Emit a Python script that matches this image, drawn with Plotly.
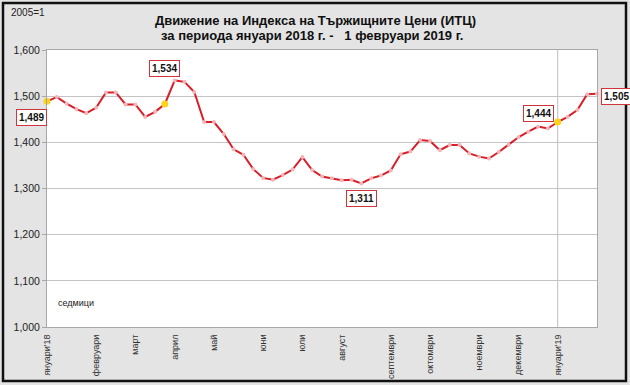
import plotly.graph_objects as go

# Weekly index values (2005=1), January 2018 - 1 February 2019
week_idx = list(range(57))
itc_values = [1489, 1498, 1484, 1472, 1463, 1475, 1508, 1508, 1482, 1482,
              1455, 1466, 1483, 1534, 1531, 1509, 1444, 1444, 1418, 1385,
              1373, 1342, 1323, 1319, 1329, 1341, 1368, 1340, 1326, 1322,
              1318, 1319, 1311, 1322, 1328, 1339, 1374, 1380, 1405, 1403,
              1383, 1394, 1394, 1376, 1369, 1365, 1379, 1395, 1411, 1423,
              1434, 1430, 1444, 1455, 1470, 1504, 1505]

# highlighted (yellow) weeks
highlight_idx = [0, 12, 52]

# month labels on the category axis
tick_pos = [0, 5, 9, 13, 17, 22, 26, 30, 35, 39, 44, 48, 52]
tick_text = ["януари'18", "февруари", "март", "април", "май", "юни", "юли",
             "август", "септември", "октомври", "ноември", "декември", "януари'19"]

# labelled points: (index, x-offset px, y-offset px)
label_idx = [0, 13, 32, 52, 56]
label_dx = [-16, -10, 0, -19, 19]
label_dy = [16, -12, 15, -9, 3]

y_ticks = [1000, 1100, 1200, 1300, 1400, 1500, 1600]

L, R, T, B = 47, 33, 50, 58
W, H = 630, 385
pw, ph = W - L - R, H - T - B

def px2x(p):
    return (p - L) / pw

def py2y(p):
    return (H - B - p) / ph

fig = go.Figure()

fig.add_trace(go.Scatter(
    x=week_idx, y=itc_values, mode="lines+markers",
    line=dict(color="#d81e28", width=2),
    marker=dict(size=4, color="#f6b3b8", line=dict(width=0)),
    cliponaxis=False, showlegend=False, hoverinfo="x+y"))

fig.add_trace(go.Scatter(
    x=highlight_idx, y=[itc_values[i] for i in highlight_idx], mode="markers",
    marker=dict(size=7, color="#ffd21c", line=dict(width=0)),
    cliponaxis=False, showlegend=False))

# vertical separator at the new year
fig.add_shape(type="line", xref="x", yref="paper",
              x0=tick_pos[-1], x1=tick_pos[-1], y0=0, y1=1,
              line=dict(color="#bdbdbd", width=1), layer="below")

# outer frame
fig.add_shape(type="rect", xref="paper", yref="paper",
              x0=px2x(3), x1=px2x(626), y0=py2y(381), y1=py2y(3),
              line=dict(color="#111111", width=2.5), layer="above")

anns = []
for i, dx, dy in zip(label_idx, label_dx, label_dy):
    anns.append(dict(
        x=week_idx[i], y=itc_values[i], xref="x", yref="y",
        text="<b>{:,}</b>".format(itc_values[i]),
        showarrow=True, arrowcolor="rgba(0,0,0,0)", arrowwidth=0.1,
        ax=dx, ay=dy, axref="pixel", ayref="pixel",
        font=dict(family="Liberation Sans, Arial", size=10, color="#111111"),
        bgcolor="white", bordercolor="#d0343c", borderwidth=1, borderpad=2))

anns.append(dict(x=px2x(315), y=py2y(20), xref="paper", yref="paper",
                 text="<b>Движение на Индекса на Тържищните Цени (ИТЦ)</b>",
                 showarrow=False, xanchor="center", yanchor="middle",
                 font=dict(family="Liberation Sans, Arial", size=13, color="#111111")))
anns.append(dict(x=px2x(312), y=py2y(35.5), xref="paper", yref="paper",
                 text="<b>за периода януари 2018 г. -   1 февруари 2019 г.</b>",
                 showarrow=False, xanchor="center", yanchor="middle",
                 font=dict(family="Liberation Sans, Arial", size=13, color="#111111")))
anns.append(dict(x=px2x(9), y=py2y(12), xref="paper", yref="paper",
                 text="2005=1", showarrow=False, xanchor="left", yanchor="middle",
                 font=dict(family="Liberation Sans, Arial", size=10, color="#222222")))
anns.append(dict(x=px2x(56), y=py2y(303), xref="paper", yref="paper",
                 text="седмици", showarrow=False, xanchor="left", yanchor="middle",
                 font=dict(family="Liberation Sans, Arial", size=9, color="#222222")))

fig.update_layout(
    width=W, height=H,
    margin=dict(l=L, r=R, t=T, b=B, pad=0),
    paper_bgcolor="#e4e4e4", plot_bgcolor="white",
    font=dict(family="Liberation Sans, Arial", size=10, color="#222222"),
    annotations=anns,
    xaxis=dict(range=[0, 56], tickmode="array", tickvals=tick_pos, ticktext=tick_text,
               tickangle=-90, showgrid=False, zeroline=False, automargin=False,
               showline=True, linecolor="#a8a8a8", linewidth=1, mirror=True,
               ticks="outside", ticklen=3, tickcolor="rgba(0,0,0,0)",
               tickfont=dict(size=9, color="#333333")),
    yaxis=dict(range=[1000, 1600], tickvals=y_ticks, tickformat=",", automargin=False,
               showgrid=True, gridcolor="#c4c4c4", gridwidth=1, zeroline=False,
               showline=True, linecolor="#a8a8a8", linewidth=1, mirror=True,
               ticks="outside", ticklen=4, tickcolor="#a8a8a8",
               tickfont=dict(size=10.5, color="#222222")),
)

fig.write_html("out.html", config={"displayModeBar": False},
               post_script="document.body.style.margin='0';document.body.style.overflow='hidden';")
